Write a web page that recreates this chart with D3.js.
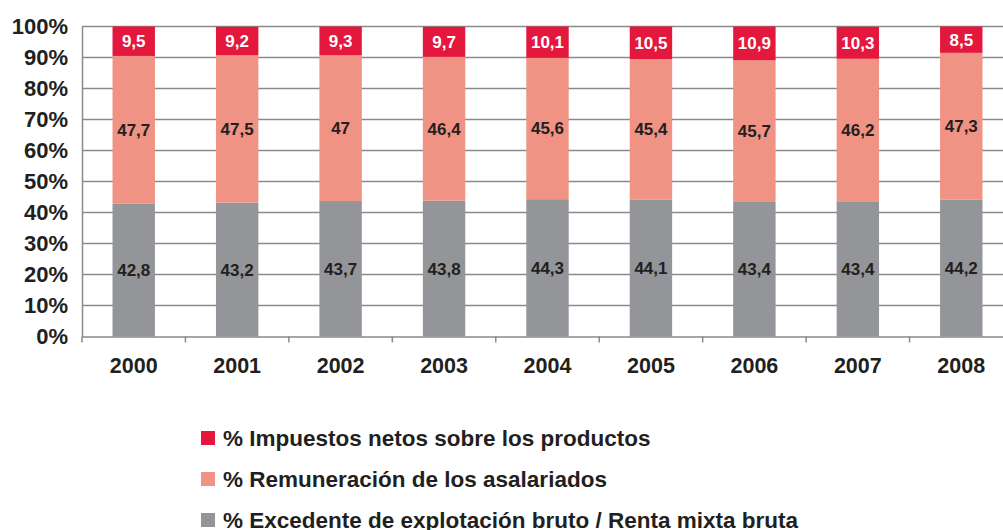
<!DOCTYPE html>
<html>
<head>
<meta charset="utf-8">
<script src="https://cdn.jsdelivr.net/npm/d3@7"></script>
<style>
  body { margin: 0; background: #fff; }
  svg { font-family: "Liberation Sans", Arial, sans-serif; font-weight: bold; }
</style>
</head>
<body>
<svg id="chart" width="1003" height="530"></svg>
<script>
// data
const years = ['2000', '2001', '2002', '2003', '2004', '2005', '2006', '2007', '2008'];
const excedente = [42.8, 43.2, 43.7, 43.8, 44.3, 44.1, 43.4, 43.4, 44.2];
const remuneracion = [47.7, 47.5, 47, 46.4, 45.6, 45.4, 45.7, 46.2, 47.3];
const impuestos = [9.5, 9.2, 9.3, 9.7, 10.1, 10.5, 10.9, 10.3, 8.5];
const yTicks = [0, 10, 20, 30, 40, 50, 60, 70, 80, 90, 100];
const seriesNames = ['% Excedente de explotación bruto / Renta mixta bruta', '% Remuneración de los asalariados', '% Impuestos netos sobre los productos'];
const colors = ['#939598', '#f09384', '#e4173c'];

const svg = d3.select('#chart');
const margin = {left: 82, top: 26.5, bottom: 336.5, right: 1013};

let x = d3.scaleBand().domain(years).range([margin.left, margin.right]).paddingInner(0.59).paddingOuter(0.295);
let xTickScale = d3.scaleBand().domain(years).range([margin.left, margin.right]);
let y = d3.scaleLinear().domain([0, 100]).range([margin.bottom, margin.top]);

let rows = years.map((yr, i) => ({year: yr, exc: excedente[i], rem: remuneracion[i], imp: impuestos[i]}));
let stack = d3.stack().keys(['exc', 'rem', 'imp'])(rows);

// gridlines
svg.append('g')
    .selectAll('line')
    .data(yTicks.filter(d => d > 0))
    .enter()
        .append('line')
        .attr('x1', margin.left).attr('x2', margin.right)
        .attr('y1', d => y(d)).attr('y2', d => y(d))
        .attr('stroke', '#8a8a8a')
        .attr('stroke-width', 1.5);

// y axis
let yAxis = d3.axisLeft(y).tickValues(yTicks).tickFormat(d => d + '%').tickSize(0).tickPadding(14);
let yG = svg.append('g')
    .attr('transform', `translate(${margin.left}, 0)`)
    .call(yAxis);
yG.select('.domain').attr('stroke', '#8a8a8a').attr('stroke-width', 1.5);
yG.selectAll('text')
    .style('font-size', '22px')
    .style('font-weight', 'bold')
    .style('font-family', '"Liberation Sans", Arial, sans-serif')
    .attr('fill', '#231f20');

// bars
let layers = svg.append('g')
    .selectAll('g')
    .data(stack)
    .enter()
        .append('g')
        .attr('fill', (d, i) => colors[i]);

layers.selectAll('rect')
    .data(d => d)
    .enter()
        .append('rect')
        .attr('x', d => x(d.data.year))
        .attr('width', x.bandwidth())
        .attr('y', d => y(d[1]))
        .attr('height', d => y(d[0]) - y(d[1]));

layers.selectAll('text')
    .data(d => d)
    .enter()
        .append('text')
        .attr('x', d => x(d.data.year) + x.bandwidth() / 2)
        .attr('y', d => y((d[0] + d[1]) / 2) + 6)
        .attr('text-anchor', 'middle')
        .style('font-size', '17px')
        .attr('fill', function() { return d3.select(this.parentNode).datum().key === 'imp' ? '#fff' : '#231f20'; })
        .text(function(d) {
            let key = d3.select(this.parentNode).datum().key;
            return String(d.data[key]).replace('.', ',');
        });

// x axis
let xAxis = d3.axisBottom(xTickScale).tickSize(0).tickPadding(21);
let xG = svg.append('g')
    .attr('transform', `translate(0, ${margin.bottom})`)
    .call(xAxis);
xG.select('.domain').attr('stroke', '#8a8a8a').attr('stroke-width', 1.5);
xG.selectAll('text')
    .style('font-size', '21.5px')
    .style('font-weight', 'bold')
    .style('font-family', '"Liberation Sans", Arial, sans-serif')
    .attr('fill', '#231f20');
xG.append('g')
    .selectAll('line')
    .data(d3.range(years.length + 1))
    .enter()
        .append('line')
        .attr('x1', i => margin.left + i * xTickScale.step())
        .attr('x2', i => margin.left + i * xTickScale.step())
        .attr('y1', 0).attr('y2', 6)
        .attr('stroke', '#8a8a8a')
        .attr('stroke-width', 1.5);

// legend
let legendOrder = [2, 1, 0];
let legend = svg.append('g')
    .selectAll('g')
    .data(legendOrder)
    .enter()
        .append('g')
        .attr('transform', (d, i) => `translate(201, ${438 + i * 41})`);

legend.append('rect')
    .attr('x', 0).attr('y', -7)
    .attr('width', 14).attr('height', 14)
    .attr('fill', d => colors[d]);

legend.append('text')
    .attr('x', 22).attr('y', 8)
    .style('font-size', '22.5px')
    .attr('fill', '#231f20')
    .text(d => seriesNames[d]);
</script>
</body>
</html>
